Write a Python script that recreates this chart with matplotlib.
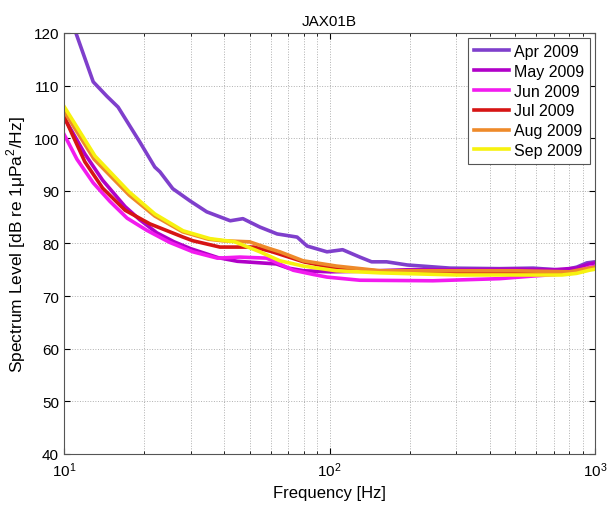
import matplotlib
matplotlib.use("Agg")
import matplotlib.pyplot as plt
from matplotlib.ticker import LogLocator, NullFormatter

plt.rcParams['font.family'] = ['Liberation Sans', 'DejaVu Sans']
plt.rcParams['mathtext.fontset'] = 'custom'
plt.rcParams['mathtext.rm'] = 'Liberation Sans'

# spectrum levels (frequency in Hz, level in dB)
apr_f = [10, 11.1, 12.9, 14.5, 16, 19.3, 22, 23, 25.7, 29.8, 34.5, 42.3, 47.2, 54.7, 63.5, 75.5, 82.3, 97.8, 112, 130, 144, 164, 196, 284, 437, 584, 756, 853, 930, 1000]
apr_db = [124, 120, 110.7, 108, 105.9, 99.3, 94.5, 93.6, 90.4, 88.1, 86, 84.3, 84.7, 83.1, 81.8, 81.2, 79.5, 78.4, 78.8, 77.4, 76.5, 76.5, 75.9, 75.3, 75.2, 75.3, 74.9, 75.5, 76.3, 76.5]

may_f = [10, 12, 14, 17, 19.3, 22.4, 26, 30, 38, 45, 55, 63, 70, 80, 100, 130, 200, 300, 500, 700, 850, 950, 1000]
may_db = [104, 97, 92, 87, 84.5, 82.0, 80.3, 79, 77.3, 76.6, 76.3, 76.1, 75.3, 74.8, 74.6, 74.7, 75, 75, 75.1, 75, 75.3, 76.1, 76.3]

jun_f = [10, 11.2, 12.9, 14.9, 17.3, 20.5, 25, 30.6, 37.8, 46, 58, 63.5, 73, 86.8, 97.8, 130, 245, 437, 584, 756, 853, 955, 1000]
jun_db = [100.8, 96, 91.5, 88, 84.8, 82.5, 80.2, 78.4, 77.2, 77.4, 77.2, 76.3, 74.9, 74.1, 73.6, 73.0, 72.9, 73.3, 73.8, 74.2, 74.7, 75.5, 75.6]

jul_f = [10, 12, 14, 17, 21.1, 28.1, 30.6, 38.7, 44.8, 52, 60, 80, 100, 150, 200, 500, 800, 900, 1000]
jul_db = [104.2, 95.5, 90.5, 86.3, 83.7, 81.2, 80.5, 79.3, 79.3, 79.3, 78.5, 76.5, 75.5, 74.8, 74.5, 74.3, 74.3, 74.9, 75.3]

aug_f = [10, 13, 17.6, 22, 28, 35, 39.5, 50, 59.5, 65, 79.5, 106, 155, 300, 500, 800, 900, 1000]
aug_db = [105.2, 96, 89.2, 85.2, 82.2, 80.8, 80.5, 80.3, 79.0, 78.4, 76.7, 75.7, 74.8, 74.8, 74.8, 74.6, 75.1, 75.5]

sep_f = [10, 13.1, 17.6, 22, 28.1, 35.5, 44, 54.7, 65, 79.5, 106, 155, 300, 500, 750, 850, 950, 1000]
sep_db = [106.1, 96.6, 89.8, 85.6, 82.4, 80.9, 80.3, 78.4, 76.7, 75.7, 74.8, 74.4, 74.0, 74.0, 74.0, 74.3, 74.9, 75.1]

labels = ['Apr 2009', 'May 2009', 'Jun 2009', 'Jul 2009', 'Aug 2009', 'Sep 2009']
colors = ['#7F3FCC', '#B000C8', '#F21BEF', '#D61414', '#EE8A2A', '#F7F20F']

fig = plt.figure(figsize=(6.08, 5.06), dpi=100)
ax = fig.add_axes([0.105, 0.101, 0.874, 0.832])

series = [(apr_f, apr_db), (may_f, may_db), (jun_f, jun_db),
          (jul_f, jul_db), (aug_f, aug_db), (sep_f, sep_db)]
for (f, db), lab, c in zip(series, labels, colors):
    ax.plot(f, db, color=c, linewidth=2.6, label=lab, solid_joinstyle='round')

ax.set_xscale('log')
ax.set_xlim(10, 1000)
ax.set_ylim(40, 120)
ax.set_yticks(range(40, 121, 10))
ax.xaxis.set_minor_locator(LogLocator(base=10, subs=range(2, 10)))
ax.xaxis.set_minor_formatter(NullFormatter())
ax.grid(True, which='major', linestyle=':', color='#b0b0b0', linewidth=0.7)
ax.grid(True, which='minor', axis='x', linestyle=':', color='#b0b0b0', linewidth=0.7)
ax.tick_params(direction='in', which='both', top=True, right=True, labelsize=11)
ax.tick_params(axis='x', pad=5)
ax.tick_params(which='major', length=4)
ax.tick_params(which='minor', length=2)
for s in ax.spines.values():
    s.set_color('#555555')
    s.set_linewidth(0.8)

ax.set_title('JAX01B', fontsize=11)
ax.set_xlabel('Frequency [Hz]', fontsize=12)
ax.set_ylabel('Spectrum Level [dB re 1\u03bcPa$^2$/Hz]', fontsize=12.5)

leg = ax.legend(loc='upper right', fontsize=11.5, fancybox=False, framealpha=1,
                handlelength=2.2, borderaxespad=0.3, labelspacing=0.3, handletextpad=0.3)
leg.get_frame().set_edgecolor('#555555')
leg.get_frame().set_linewidth(0.8)

fig.savefig('out.png', dpi=100)
